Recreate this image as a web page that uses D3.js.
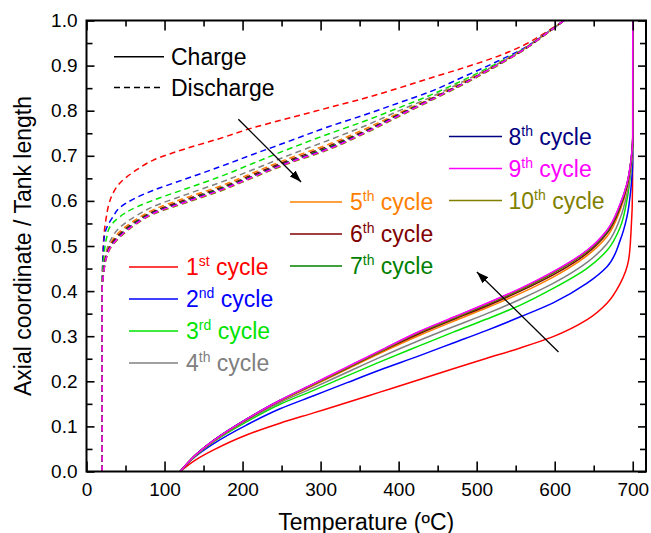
<!DOCTYPE html>
<html>
<head>
<meta charset="utf-8">
<script src="https://cdn.jsdelivr.net/npm/d3@7"></script>
<style>
  html, body { margin: 0; padding: 0; background: #fff; }
  svg { display: block; font-family: "Liberation Sans", Arial, Helvetica, sans-serif; }
</style>
</head>
<body>
<svg id="chart" width="651" height="533"></svg>
<script>
// ---- cycle labels & colours ----
const cycleNumbers  = ["1", "2", "3", "4", "5", "6", "7", "8", "9", "10"];
const cycleSuffixes = ["st", "nd", "rd", "th", "th", "th", "th", "th", "th", "th"];
const cycleColors   = ["#ff0000", "#0000ff", "#00e400", "#808080", "#ff8000",
                       "#800000", "#008000", "#000080", "#ff00ff", "#808000"];

// ---- charge profiles: [temperature (°C), axial coordinate / tank length] ----
const charge1  = [[120,0],[140,0.026],[163,0.048],[205,0.081],[248,0.107],[291,0.130],[334,0.153],[376,0.176],[427,0.204],[470,0.228],[513,0.251],[556,0.274],[598,0.299],[641,0.336],[667,0.373],[684,0.417],[694.6,0.468],[697.7,0.528],[699.8,0.638],[700,1.0]];
const charge2  = [[120,0],[140,0.034],[163,0.062],[205,0.103],[248,0.139],[291,0.168],[334,0.197],[376,0.225],[427,0.257],[470,0.285],[513,0.313],[556,0.343],[598,0.374],[641,0.417],[667,0.454],[684,0.513],[692.5,0.564],[697.7,0.628],[700,0.690],[700,1.0]];
const charge3  = [[120,0],[140,0.035],[163,0.066],[205,0.110],[248,0.149],[291,0.180],[334,0.212],[376,0.243],[427,0.279],[470,0.309],[513,0.338],[556,0.369],[598,0.406],[641,0.450],[667,0.490],[684,0.542],[692.5,0.601],[697.7,0.668],[700,0.720],[700,1.0]];
const charge4  = [[120,0],[140,0.036],[163,0.067],[205,0.113],[248,0.153],[291,0.186],[334,0.220],[376,0.253],[427,0.291],[470,0.321],[513,0.350],[556,0.382],[598,0.417],[641,0.463],[667,0.505],[684,0.562],[692.5,0.615],[697.7,0.670],[700,0.730],[700,1.0]];
const charge5  = [[120,0],[140,0.037],[163,0.068],[205,0.115],[248,0.156],[291,0.191],[334,0.227],[376,0.262],[427,0.302],[470,0.333],[513,0.363],[556,0.395],[598,0.431],[641,0.478],[667,0.521],[684,0.580],[692.5,0.628],[697.7,0.681],[700,0.735],[700,1.0]];
const charge6  = [[120,0],[140,0.037],[163,0.069],[205,0.115],[248,0.157],[291,0.193],[334,0.229],[376,0.265],[427,0.306],[470,0.337],[513,0.367],[556,0.400],[598,0.436],[641,0.483],[667,0.528],[684,0.586],[692.5,0.632],[697.7,0.685],[700,0.737],[700,1.0]];
const charge7  = [[120,0],[140,0.037],[163,0.069],[205,0.116],[248,0.157],[291,0.194],[334,0.230],[376,0.266],[427,0.309],[470,0.339],[513,0.370],[556,0.403],[598,0.440],[641,0.487],[667,0.531],[684,0.590],[692.5,0.635],[697.7,0.688],[700,0.739],[700,1.0]];
const charge8  = [[120,0],[140,0.037],[163,0.069],[205,0.116],[248,0.158],[291,0.194],[334,0.231],[376,0.267],[427,0.310],[470,0.341],[513,0.372],[556,0.405],[598,0.442],[641,0.489],[667,0.534],[684,0.592],[692.5,0.637],[697.7,0.689],[700,0.740],[700,1.0]];
const charge9  = [[120,0],[140,0.037],[163,0.069],[205,0.116],[248,0.158],[291,0.195],[334,0.232],[376,0.268],[427,0.311],[470,0.342],[513,0.373],[556,0.406],[598,0.443],[641,0.490],[667,0.535],[684,0.594],[692.5,0.638],[697.7,0.690],[700,0.740],[700,1.0]];
const charge10 = [[120,0],[140,0.036],[163,0.068],[205,0.115],[248,0.157],[291,0.193],[334,0.230],[376,0.266],[427,0.309],[470,0.340],[513,0.371],[556,0.404],[598,0.441],[641,0.488],[667,0.533],[684,0.592],[692.5,0.636],[697.7,0.688],[700,0.740],[700,1.0]];

// ---- discharge profiles: [temperature (°C), axial coordinate / tank length] ----
const discharge1  = [[20,0],[20,0.40],[20.5,0.45],[21.5,0.50],[23,0.535],[25,0.560],[28,0.588],[33.6,0.616],[42,0.638],[63.5,0.668],[85,0.690],[127.6,0.716],[170,0.738],[213,0.762],[256,0.782],[311,0.807],[355,0.827],[398,0.849],[440,0.872],[483,0.895],[526,0.920],[560,0.945],[586,0.971],[612,1.0]];
const discharge2  = [[20,0],[20,0.40],[20.8,0.46],[22.8,0.52],[27,0.545],[33.6,0.564],[42,0.584],[63.5,0.607],[85,0.623],[127.6,0.649],[170,0.675],[213,0.703],[256,0.730],[311,0.765],[355,0.790],[398,0.816],[440,0.842],[483,0.875],[526,0.909],[560,0.938],[586,0.968],[612,1.0]];
const discharge3  = [[20,0],[20,0.40],[21,0.45],[23,0.49],[26,0.52],[29.3,0.540],[42,0.564],[63.5,0.586],[85,0.601],[127.6,0.627],[170,0.653],[213,0.683],[256,0.713],[311,0.749],[355,0.776],[398,0.805],[440,0.834],[483,0.868],[526,0.905],[560,0.937],[586,0.968],[612,1.0]];
const discharge4  = [[20,0],[20,0.40],[22,0.455],[25,0.485],[30,0.510],[42,0.540],[63.5,0.567],[85,0.587],[127.6,0.614],[170,0.640],[213,0.669],[256,0.699],[311,0.735],[355,0.765],[398,0.798],[440,0.829],[483,0.865],[526,0.903],[560,0.936],[586,0.968],[612,1.0]];
const discharge5  = [[20,0],[20,0.40],[22,0.448],[25,0.479],[30,0.503],[42,0.531],[63.5,0.559],[85,0.580],[127.6,0.607],[170,0.632],[213,0.662],[256,0.692],[311,0.726],[355,0.758],[398,0.793],[440,0.826],[483,0.863],[526,0.902],[560,0.936],[586,0.967],[612,1.0]];
const discharge6  = [[20,0],[20,0.40],[22,0.445],[25,0.476],[30,0.500],[42,0.526],[63.5,0.555],[85,0.576],[127.6,0.603],[170,0.628],[213,0.658],[256,0.688],[311,0.722],[355,0.754],[398,0.790],[440,0.825],[483,0.861],[526,0.901],[560,0.935],[586,0.967],[612,1.0]];
const discharge7  = [[20,0],[20,0.40],[22,0.442],[25,0.474],[30,0.497],[42,0.523],[63.5,0.553],[85,0.574],[127.6,0.600],[170,0.626],[213,0.655],[256,0.685],[311,0.719],[355,0.752],[398,0.789],[440,0.824],[483,0.861],[526,0.901],[560,0.935],[586,0.967],[612,1.0]];
const discharge8  = [[20,0],[20,0.40],[22,0.441],[25,0.473],[30,0.496],[42,0.521],[63.5,0.551],[85,0.573],[127.6,0.599],[170,0.624],[213,0.654],[256,0.684],[311,0.717],[355,0.751],[398,0.788],[440,0.823],[483,0.860],[526,0.901],[560,0.935],[586,0.967],[612,1.0]];
const discharge9  = [[20,0],[20,0.40],[22,0.440],[25,0.472],[30,0.495],[42,0.520],[63.5,0.550],[85,0.572],[127.6,0.598],[170,0.623],[213,0.653],[256,0.683],[311,0.716],[355,0.750],[398,0.787],[440,0.823],[483,0.860],[526,0.901],[560,0.935],[586,0.967],[612,1.0]];
const discharge10 = [[20,0],[20,0.40],[22,0.438],[25,0.470],[30,0.493],[42,0.518],[63.5,0.548],[85,0.570],[127.6,0.596],[170,0.621],[213,0.651],[256,0.681],[311,0.714],[355,0.748],[398,0.785],[440,0.821],[483,0.858],[526,0.899],[560,0.934],[586,0.966],[612,1.0]];

// ---- axis ticks ----
const xMajorTicks = [0, 100, 200, 300, 400, 500, 600, 700];
const xMinorTicks = [50, 150, 250, 350, 450, 550, 650];
const yMajorTicks = [0, 0.1, 0.2, 0.3, 0.4, 0.5, 0.6, 0.7, 0.8, 0.9, 1.0];
const yMinorTicks = [0.05, 0.15, 0.25, 0.35, 0.45, 0.55, 0.65, 0.75, 0.85, 0.95];

// ---- trend arrows (temperature, axial coordinate) ----
const dischargeArrow = [[194.6, 0.781], [275, 0.642]];
const chargeArrow    = [[604.9, 0.265], [500.3, 0.4425]];

const chargeSeries    = [charge1, charge2, charge3, charge4, charge5, charge6, charge7, charge8, charge9, charge10];
const dischargeSeries = [discharge1, discharge2, discharge3, discharge4, discharge5, discharge6, discharge7, discharge8, discharge9, discharge10];

// ---- layout ----
const plot = { left: 86.5, right: 646, top: 20.5, bottom: 471.5 };
const svg = d3.select("#chart");

const x = d3.scaleLinear().domain([0, 717]).range([plot.left, plot.right]);
const y = d3.scaleLinear().domain([0, 1]).range([plot.bottom, plot.top]);

svg.append("defs").append("clipPath").attr("id", "plot-clip")
  .append("rect")
  .attr("x", plot.left).attr("y", plot.top)
  .attr("width", plot.right - plot.left).attr("height", plot.bottom - plot.top);

svg.select("defs").append("marker")
  .attr("id", "arrowhead")
  .attr("viewBox", "-12 -5 13 10")
  .attr("refX", 0).attr("refY", 0)
  .attr("markerWidth", 13).attr("markerHeight", 10)
  .attr("markerUnits", "userSpaceOnUse")
  .attr("orient", "auto")
  .append("path")
  .attr("d", "M0,0 L-12,-4.2 L-12,4.2 Z")
  .attr("fill", "#000");

// ---- profile curves ----
const line = d3.line()
  .x(d => x(d[0]))
  .y(d => y(d[1]))
  .curve(d3.curveMonotoneY);

const drawOrder = [0, 1, 2, 3, 4, 5, 6, 7, 9, 8];
const curves = svg.append("g").attr("clip-path", "url(#plot-clip)").attr("fill", "none");

drawOrder.forEach(i => {
  curves.append("path")
    .attr("d", line(dischargeSeries[i]))
    .attr("stroke", cycleColors[i])
    .attr("stroke-width", 1.5)
    .attr("stroke-dasharray", "6,4");
});
drawOrder.forEach(i => {
  curves.append("path")
    .attr("d", line(chargeSeries[i]))
    .attr("stroke", cycleColors[i])
    .attr("stroke-width", 1.5);
});

// ---- axes (ticks inward on all four sides) ----
const axisFont = 19;
function styleAxis(g) {
  g.select(".domain").remove();
  g.selectAll(".tick line").attr("stroke", "#000").attr("stroke-width", 1.6);
  g.selectAll(".tick text").attr("fill", "#000").attr("font-size", axisFont)
    .attr("font-family", "'Liberation Sans', Arial, sans-serif");
}

svg.append("g").attr("transform", `translate(0,${plot.bottom})`)
  .call(d3.axisBottom(x).tickValues(xMajorTicks).tickSize(-10).tickPadding(11).tickFormat(d3.format("d")))
  .call(styleAxis);
svg.append("g").attr("transform", `translate(0,${plot.bottom})`)
  .call(d3.axisBottom(x).tickValues(xMinorTicks).tickSize(-6).tickFormat(""))
  .call(styleAxis);
svg.append("g").attr("transform", `translate(0,${plot.top})`)
  .call(d3.axisTop(x).tickValues(xMajorTicks).tickSize(-10).tickFormat(""))
  .call(styleAxis);
svg.append("g").attr("transform", `translate(0,${plot.top})`)
  .call(d3.axisTop(x).tickValues(xMinorTicks).tickSize(-6).tickFormat(""))
  .call(styleAxis);

svg.append("g").attr("transform", `translate(${plot.left},0)`)
  .call(d3.axisLeft(y).tickValues(yMajorTicks).tickSize(-8).tickPadding(9).tickFormat(d3.format(".1f")))
  .call(styleAxis);
svg.append("g").attr("transform", `translate(${plot.left},0)`)
  .call(d3.axisLeft(y).tickValues(yMinorTicks).tickSize(-6).tickFormat(""))
  .call(styleAxis);
svg.append("g").attr("transform", `translate(${plot.right},0)`)
  .call(d3.axisRight(y).tickValues(yMajorTicks).tickSize(-8).tickFormat(""))
  .call(styleAxis);
svg.append("g").attr("transform", `translate(${plot.right},0)`)
  .call(d3.axisRight(y).tickValues(yMinorTicks).tickSize(-6).tickFormat(""))
  .call(styleAxis);

// frame
svg.append("rect")
  .attr("x", plot.left).attr("y", plot.top)
  .attr("width", plot.right - plot.left).attr("height", plot.bottom - plot.top)
  .attr("fill", "none").attr("stroke", "#000").attr("stroke-width", 2);

// ---- axis titles ----
svg.append("text")
  .attr("x", (plot.left + plot.right) / 2).attr("y", 529.5)
  .attr("text-anchor", "middle").attr("font-size", 23).attr("fill", "#000")
  .text("Temperature (ºC)");

svg.append("text")
  .attr("transform", `translate(31,${(plot.top + plot.bottom) / 2}) rotate(-90)`)
  .attr("text-anchor", "middle").attr("font-size", 23).attr("fill", "#000")
  .text("Axial coordinate / Tank length");

// ---- trend arrows ----
[dischargeArrow, chargeArrow].forEach(a => {
  svg.append("line")
    .attr("x1", x(a[0][0])).attr("y1", y(a[0][1]))
    .attr("x2", x(a[1][0])).attr("y2", y(a[1][1]))
    .attr("stroke", "#000").attr("stroke-width", 1.3)
    .attr("marker-end", "url(#arrowhead)");
});

// ---- legend: line styles ----
const styleLegend = svg.append("g");
[["Charge", null, 56.7], ["Discharge", "6,4", 87.5]].forEach(([label, dash, ly]) => {
  styleLegend.append("line")
    .attr("x1", 114).attr("x2", 164).attr("y1", ly).attr("y2", ly)
    .attr("stroke", "#000").attr("stroke-width", 1.5)
    .attr("stroke-dasharray", dash);
  styleLegend.append("text")
    .attr("x", 171).attr("y", ly + 8.3)
    .attr("font-size", 23).attr("fill", "#000")
    .text(label);
});

// ---- legend: cycles ----
const legendSlots = [
  { x1: 129, x2: 178, tx: 186,   y: 267 },
  { x1: 129, x2: 178, tx: 186,   y: 299 },
  { x1: 129, x2: 178, tx: 186,   y: 331 },
  { x1: 129, x2: 178, tx: 186,   y: 363 },
  { x1: 290, x2: 342, tx: 350,   y: 202 },
  { x1: 290, x2: 342, tx: 350,   y: 234 },
  { x1: 290, x2: 342, tx: 350,   y: 266 },
  { x1: 449, x2: 502, tx: 508.5, y: 136.5 },
  { x1: 449, x2: 502, tx: 508.5, y: 168.5 },
  { x1: 449, x2: 502, tx: 508.5, y: 200.5 }
];
const cycleLegend = svg.append("g");
legendSlots.forEach((s, i) => {
  cycleLegend.append("line")
    .attr("x1", s.x1).attr("x2", s.x2).attr("y1", s.y).attr("y2", s.y)
    .attr("stroke", cycleColors[i]).attr("stroke-width", 1.5);
  const t = cycleLegend.append("text")
    .attr("x", s.tx).attr("y", s.y + 8.3)
    .attr("font-size", 23).attr("fill", cycleColors[i]);
  t.append("tspan").text(cycleNumbers[i]);
  t.append("tspan").attr("font-size", 14).attr("dy", -9).text(cycleSuffixes[i]);
  t.append("tspan").attr("dy", 9).text(" cycle");
});
</script>
</body>
</html>
